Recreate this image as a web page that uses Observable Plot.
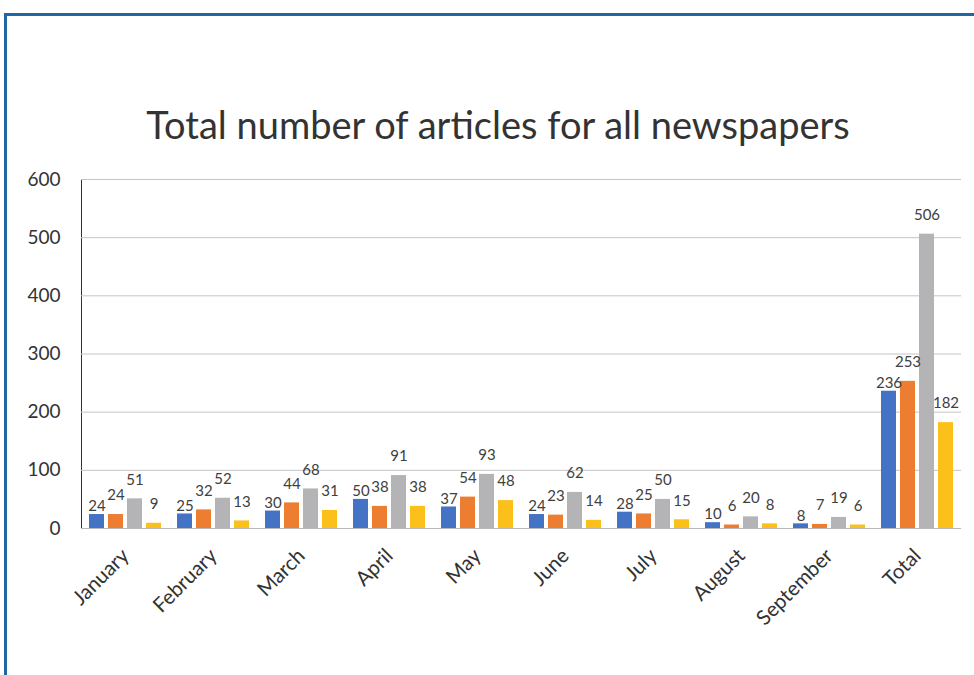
<!DOCTYPE html>
<html>
<head>
<meta charset="utf-8">
<script src="https://cdn.jsdelivr.net/npm/d3@7"></script>
<script src="https://cdn.jsdelivr.net/npm/@observablehq/plot@0.6"></script>
<style>
  html, body { margin: 0; padding: 0; background: #fff; width: 974px; height: 675px; overflow: hidden; }
  #frame { position: absolute; left: 4px; top: 13px; width: 1000px; height: 700px;
           border-top: 3px solid #1f67a4; border-left: 3px solid #1f67a4; }
  #title { position: absolute; left: 0; width: 996px; top: 101px; text-align: center;
           font-family: Lato, sans-serif; font-size: 38px; color: #333; white-space: nowrap; }
  #chart { position: absolute; left: 0; top: 160px; }
  #chart svg g[aria-label^="fx-axis"] text { font-size: 20.5px; fill: #333; }
  #chart svg g[aria-label^="fx-axis"] { font-size: 20.5px; }
  #chart svg .domain { stroke: #bfbfbf; }
</style>
</head>
<body>
<div id="frame"></div>
<div id="title">Total number of articles for all newspapers</div>
<div id="chart"></div>
<script>
const months = ["January", "February", "March", "April", "May", "June", "July", "August", "September", "Total"];
const series = ["Series 1", "Series 2", "Series 3", "Series 4"];
const series1 = [24, 25, 30, 50, 37, 24, 28, 10, 8, 236];
const series2 = [24, 32, 44, 38, 54, 23, 25, 6, 7, 253];
const series3 = [51, 52, 68, 91, 93, 62, 50, 20, 19, 506];
const series4 = [9, 13, 31, 38, 48, 14, 15, 8, 6, 182];
const yTicks = [0, 100, 200, 300, 400, 500, 600];
const colors = ["#4472c4", "#ed7d31", "#b4b4b6", "#fbc01a"];

const allSeries = [series1, series2, series3, series4];
const data = months.flatMap((m, i) => series.map((s, j) => ({month: m, series: s, value: allSeries[j][i]})));
const firstSeries = data.filter(d => d.series === series[0]);
const otherSeries = data.filter(d => d.series !== series[0]);

const chart = Plot.plot({
  width: 974,
  height: 498,
  marginLeft: 80,
  marginRight: 12,
  marginTop: 19,
  marginBottom: 130,
  style: {fontFamily: "Lato, sans-serif", fontSize: "19px", color: "#333", background: "transparent", overflow: "visible"},
  fx: {domain: months, padding: 0, label: null, tickRotate: -45, tickSize: 0, tickPadding: 24, axis: "bottom"},
  x: {domain: series, axis: null, paddingInner: 0.2, paddingOuter: 0.385},
  y: {domain: [0, 600], ticks: yTicks, label: null, tickSize: 0, tickPadding: 21, line: true},
  color: {domain: series, range: colors},
  marks: [
    Plot.ruleY(yTicks, {stroke: "#c4c4c4", strokeWidth: 1}),
    Plot.barY(data, {fx: "month", x: "series", y: "value", fill: "series"}),
    Plot.ruleY([0], {stroke: "#b8b8b8"}),
    Plot.text(firstSeries, {fx: "month", x: "series", y: "value", text: d => String(d.value), dy: -8, fontSize: 15, fill: "#404040"}),
    Plot.text(otherSeries, {fx: "month", x: "series", y: "value", text: d => String(d.value), dy: -19, fontSize: 15, fill: "#404040"})
  ]
});
document.getElementById("chart").appendChild(chart);
</script>
</body>
</html>
